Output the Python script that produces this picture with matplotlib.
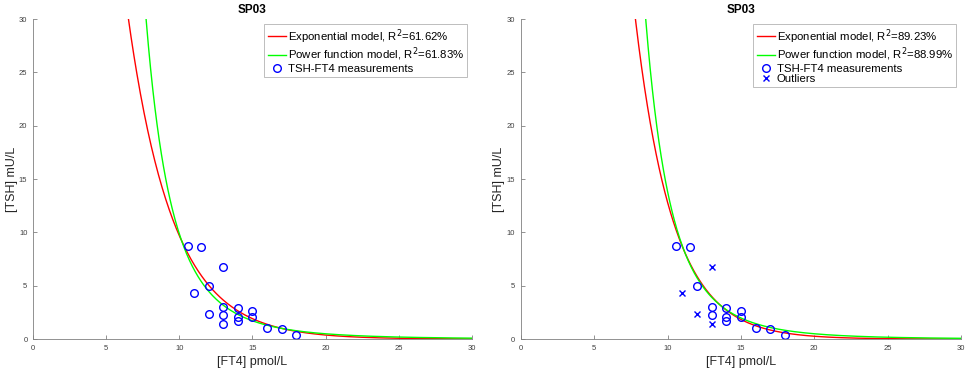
import numpy as np
import matplotlib
matplotlib.use("Agg")
import matplotlib.pyplot as plt

plt.rcParams['font.family'] = ['Liberation Sans', 'DejaVu Sans']

# TSH-FT4 pairs, patient SP03
ft4 = [10.6, 11.5, 13.0, 12.0, 11.0, 13.0, 14.0, 12.0, 13.0, 14.0, 14.0, 13.0, 15.0, 15.0, 16.0, 17.0, 18.0]
tsh = [8.7, 8.65, 6.75, 4.95, 4.3, 3.05, 2.95, 2.35, 2.25, 2.1, 1.65, 1.4, 2.6, 2.1, 1.05, 0.95, 0.35]
outlier = [False, False, True, False, True, False, False, True, False, False, False, True,
           False, False, False, False, False]

# fitted models: exp -> a*exp(-b*x), power -> c*x^(-d)
fit_all = dict(a=250.0, b=0.325, c=2.06e5, d=4.32, r2e="61.62", r2p="61.83")
fit_clean = dict(a=621.0, b=0.388, c=8.73e5, d=4.8, r2e="89.23", r2p="88.99")

ft4 = np.array(ft4)
tsh = np.array(tsh)
outlier = np.array(outlier)

fig = plt.figure(figsize=(9.7, 3.73), dpi=100)
ax1 = fig.add_axes([0.034, 0.091, 0.4526, 0.858])
ax2 = fig.add_axes([0.537, 0.091, 0.4536, 0.858])

xx = np.linspace(0.5, 30, 600)
grey = '#262626'


def panel(ax, fit, show_out):
    ye = fit['a'] * np.exp(-fit['b'] * xx)
    yp = fit['c'] * xx ** (-fit['d'])
    ax.plot(xx, ye, color=(1, 0, 0), lw=1.0,
            label='Exponential model, R$^2$=%s%%' % fit['r2e'])
    ax.plot(xx, yp, color=(0, 1, 0), lw=1.0,
            label='Power function model, R$^2$=%s%%' % fit['r2p'])
    if show_out:
        keep = ~outlier
    else:
        keep = np.ones(len(ft4), bool)
    ax.plot(ft4[keep], tsh[keep], 'o', mfc='none', mec=(0, 0, 1), ms=5.5, mew=1.0,
            label='TSH-FT4 measurements')
    if show_out:
        ax.plot(ft4[~keep], tsh[~keep], 'x', color=(0, 0, 1), ms=4, mew=1.0,
                label='Outliers')
    ax.set_xlim(0, 30)
    ax.set_ylim(0, 30)
    ax.set_xticks(range(0, 31, 5))
    ax.set_yticks(range(0, 31, 5))
    for s in ['top', 'right']:
        ax.spines[s].set_visible(False)
    for s in ['left', 'bottom']:
        ax.spines[s].set_color('#808080')
        ax.spines[s].set_linewidth(0.6)
    ax.tick_params(direction='in', length=3, width=0.6, color='#808080',
                   labelsize=5.5, labelcolor='#404040', pad=4)
    ax.set_xlabel('[FT4] pmol/L', fontsize=9, color=grey, labelpad=3)
    ax.set_ylabel('[TSH] mU/L', fontsize=9, color=grey, labelpad=1)
    ax.set_title('SP03', fontsize=8.5, fontweight='bold', pad=4)
    leg = ax.legend(loc='upper right', fontsize=8.2, frameon=True, fancybox=False,
                    edgecolor='#a0a0a0', handlelength=1.6, handletextpad=0.15,
                    labelspacing=0.02, borderpad=0.3, borderaxespad=0.4)
    leg.get_frame().set_linewidth(0.6)


panel(ax1, fit_all, False)
panel(ax2, fit_clean, True)

fig.savefig('out.png', dpi=100)
